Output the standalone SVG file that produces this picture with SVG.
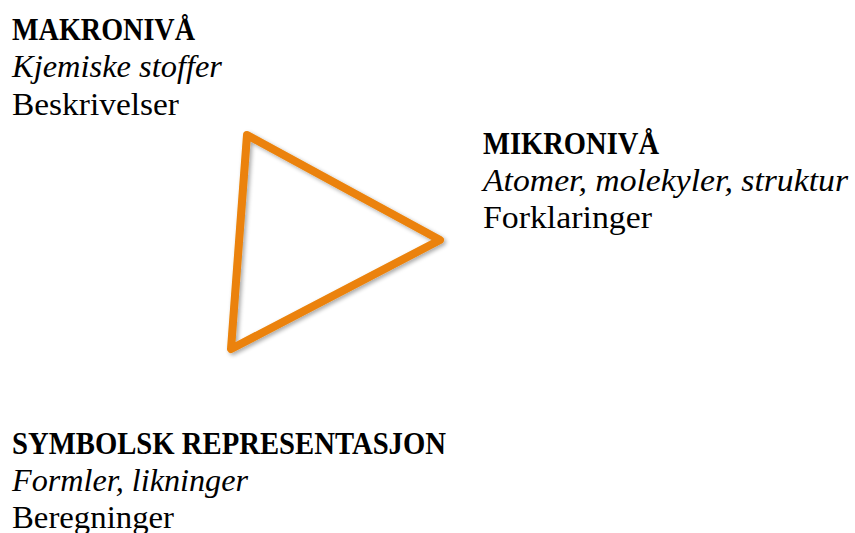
<svg xmlns="http://www.w3.org/2000/svg" width="855" height="533" viewBox="0 0 855 533">
<defs>
<style>
text{font-family:"Liberation Serif","DejaVu Serif",serif;font-size:32px;fill:#000}
.b{font-weight:bold}
.i{font-style:italic}
</style>
<filter id="sh" x="-10%" y="-10%" width="130%" height="130%">
<feGaussianBlur in="SourceAlpha" stdDeviation="2"/>
<feOffset dx="2" dy="2" result="o"/>
<feComponentTransfer><feFuncA type="linear" slope="0.35"/></feComponentTransfer>
<feMerge><feMergeNode/><feMergeNode in="SourceGraphic"/></feMerge>
</filter>
</defs>
<rect width="855" height="533" fill="#fff"/>
<g id="connectors">
<polygon points="247,135 440,240 231,349" fill="none" stroke="#EB8208" stroke-width="8" stroke-linejoin="round" filter="url(#sh)"/>
</g>
<g id="makro">
<text x="12" y="40" class="b" textLength="183" lengthAdjust="spacingAndGlyphs">MAKRONIVÅ</text>
<text x="12" y="77" class="i" textLength="210" lengthAdjust="spacingAndGlyphs">Kjemiske stoffer</text>
<text x="12" y="115" textLength="167" lengthAdjust="spacingAndGlyphs">Beskrivelser</text>
</g>
<g id="mikro">
<text x="483" y="154" class="b" textLength="176" lengthAdjust="spacingAndGlyphs">MIKRONIVÅ</text>
<text x="483" y="191" class="i" textLength="365" lengthAdjust="spacingAndGlyphs">Atomer, molekyler, struktur</text>
<text x="483" y="228" textLength="169" lengthAdjust="spacingAndGlyphs">Forklaringer</text>
</g>
<g id="symbolsk">
<text x="12" y="454" class="b" textLength="434" lengthAdjust="spacingAndGlyphs">SYMBOLSK REPRESENTASJON</text>
<text x="12" y="491" class="i" textLength="236" lengthAdjust="spacingAndGlyphs">Formler, likninger</text>
<text x="12" y="528" textLength="162" lengthAdjust="spacingAndGlyphs">Beregninger</text>
</g>
</svg>
